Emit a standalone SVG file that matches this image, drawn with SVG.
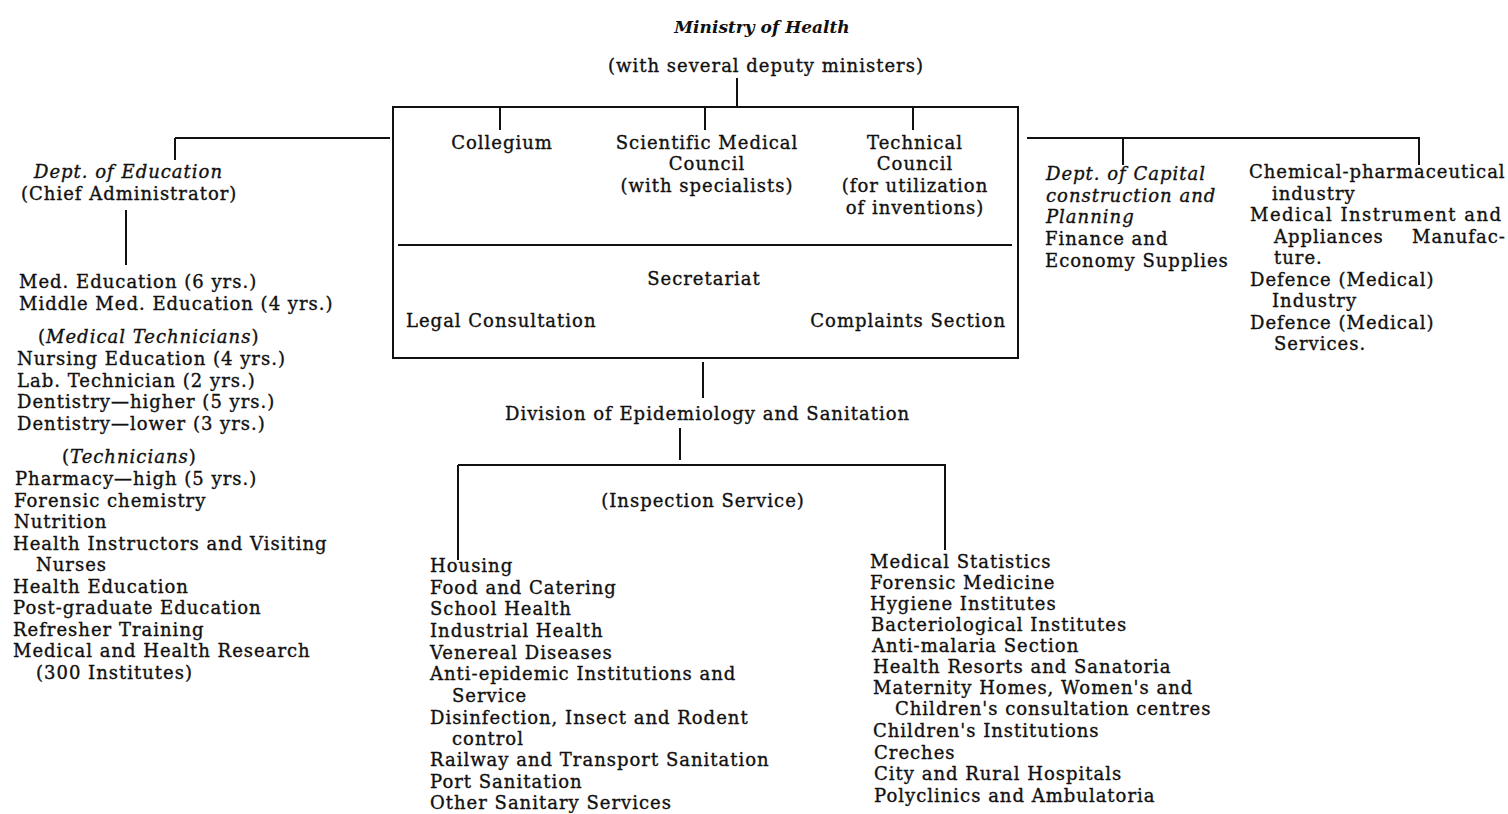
<svg xmlns="http://www.w3.org/2000/svg" width="1508" height="814" viewBox="0 0 1508 814">
<style>
text{font-family:"DejaVu Serif","Liberation Serif",serif;font-size:18px;letter-spacing:1px;fill:#111;stroke:#111;stroke-width:0.35;}
.i{font-style:italic;}
.b{font-weight:bold;stroke-width:0;letter-spacing:0;font-size:17px;}
.c{text-anchor:middle;}
.ln{stroke:#111;stroke-width:2;fill:none;}
</style>
<rect width="1508" height="814" fill="#fff"/>
<g id="connectors" class="ln">
<path d="M737 78V107"/>
<path d="M500 107V130M705 107V130M913 107V130"/>
<path d="M175 138H390M175 138V160"/>
<path d="M1027 138H1420M1123 138V165M1419 138V165"/>
<path d="M126 210V265"/>
<path d="M703 362V398"/>
<path d="M680 428V460"/>
<path d="M458 465H946M458 465V560M945 465V550"/>
</g>
<g id="ministry">
<text class="i b c" x="762" y="33">Ministry of Health</text>
<text class="c" x="766" y="72">(with several deputy ministers)</text>
</g>
<g id="central-box">
<rect class="ln" x="393" y="107" width="625" height="251"/>
<path class="ln" d="M398 245H1012"/>
</g>
<g id="collegium"><text class="c" x="502" y="149">Collegium</text></g>
<g id="scientific-council">
<text class="c" x="707" y="149">Scientific Medical</text>
<text class="c" x="707" y="170">Council</text>
<text class="c" x="707" y="192">(with specialists)</text>
</g>
<g id="technical-council">
<text class="c" x="915" y="149">Technical</text>
<text class="c" x="915" y="170">Council</text>
<text class="c" x="915" y="192">(for utilization</text>
<text class="c" x="915" y="214">of inventions)</text>
</g>
<g id="secretariat">
<text class="c" x="704" y="285">Secretariat</text>
<text x="406" y="327">Legal Consultation</text>
<text x="1006" y="327" text-anchor="end">Complaints Section</text>
</g>
<g id="dept-education">
<text class="i" x="34" y="178">Dept. of Education</text>
<text x="21" y="200">(Chief Administrator)</text>
</g>
<g id="education-list">
<text x="19" y="288">Med. Education (6 yrs.)</text>
<text x="19" y="310">Middle Med. Education (4 yrs.)</text>
<text x="38" y="343">(<tspan class="i">Medical Technicians</tspan>)</text>
<text x="17" y="365">Nursing Education (4 yrs.)</text>
<text x="17" y="387">Lab. Technician (2 yrs.)</text>
<text x="17" y="408">Dentistry—higher (5 yrs.)</text>
<text x="17" y="430">Dentistry—lower (3 yrs.)</text>
<text x="62" y="463">(<tspan class="i">Technicians</tspan>)</text>
<text x="15" y="485">Pharmacy—high (5 yrs.)</text>
<text x="14" y="507">Forensic chemistry</text>
<text x="14" y="528">Nutrition</text>
<text x="13" y="550">Health Instructors and Visiting</text>
<text x="36" y="571">Nurses</text>
<text x="13" y="593">Health Education</text>
<text x="13" y="614">Post-graduate Education</text>
<text x="13" y="636">Refresher Training</text>
<text x="13" y="657">Medical and Health Research</text>
<text x="36" y="679">(300 Institutes)</text>
</g>
<g id="dept-capital">
<text class="i" x="1046" y="180">Dept. of Capital</text>
<text class="i" x="1046" y="202">construction and</text>
<text class="i" x="1046" y="223">Planning</text>
<text x="1045" y="245">Finance and</text>
<text x="1045" y="267">Economy Supplies</text>
</g>
<g id="industry">
<text x="1249" y="178">Chemical-pharmaceutical</text>
<text x="1272" y="200">industry</text>
<text x="1250" y="221" textLength="252">Medical Instrument and</text>
<text x="1274" y="243">Appliances <tspan x="1412">Manufac-</tspan></text>
<text x="1274" y="264">ture.</text>
<text x="1250" y="286">Defence (Medical)</text>
<text x="1272" y="307">Industry</text>
<text x="1250" y="329">Defence (Medical)</text>
<text x="1274" y="350">Services.</text>
</g>
<g id="division"><text x="505" y="420">Division of Epidemiology and Sanitation</text></g>
<g id="inspection"><text class="c" x="703" y="507">(Inspection Service)</text></g>
<g id="sanitation-list">
<text x="430" y="572">Housing</text>
<text x="430" y="594">Food and Catering</text>
<text x="430" y="615">School Health</text>
<text x="430" y="637">Industrial Health</text>
<text x="430" y="659">Venereal Diseases</text>
<text x="430" y="680">Anti-epidemic Institutions and</text>
<text x="452" y="702">Service</text>
<text x="430" y="724">Disinfection, Insect and Rodent</text>
<text x="452" y="745">control</text>
<text x="430" y="766">Railway and Transport Sanitation</text>
<text x="430" y="788">Port Sanitation</text>
<text x="430" y="809">Other Sanitary Services</text>
</g>
<g id="institutions-list">
<text x="870" y="568">Medical Statistics</text>
<text x="870" y="589">Forensic Medicine</text>
<text x="870" y="610">Hygiene Institutes</text>
<text x="871" y="631">Bacteriological Institutes</text>
<text x="872" y="652">Anti-malaria Section</text>
<text x="873" y="673">Health Resorts and Sanatoria</text>
<text x="873" y="694">Maternity Homes, Women's and</text>
<text x="895" y="715">Children's consultation centres</text>
<text x="873" y="737">Children's Institutions</text>
<text x="874" y="759">Creches</text>
<text x="874" y="780">City and Rural Hospitals</text>
<text x="874" y="802">Polyclinics and Ambulatoria</text>
</g>
</svg>
